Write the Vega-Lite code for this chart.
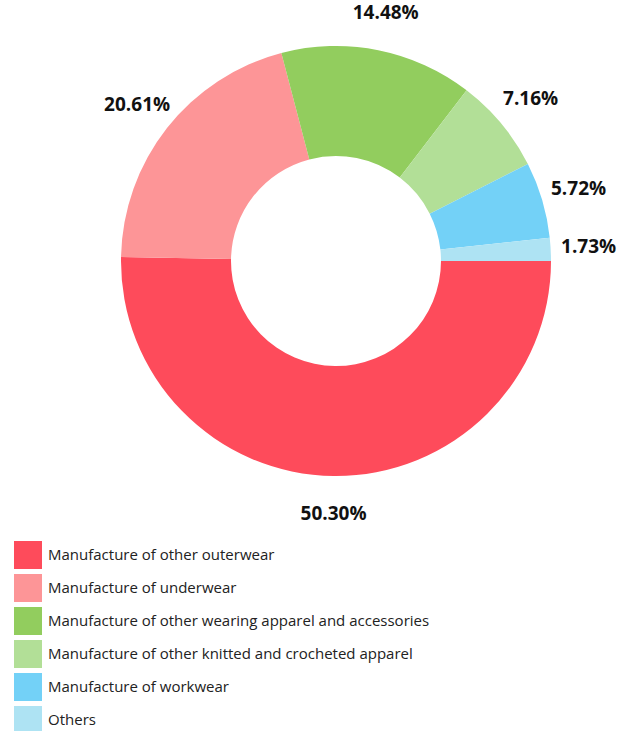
{
  "$schema": "https://vega.github.io/schema/vega-lite/v6.json",
  "autosize": "none",
  "width": 572,
  "height": 522,
  "padding": {"left": 50, "top": 0, "right": 0, "bottom": 209},
  "background": "white",
  "data": {"values": [
    {"category": "Manufacture of other outerwear", "value": 50.30, "label": "50.30%", "order": 1},
    {"category": "Manufacture of underwear", "value": 20.61, "label": "20.61%", "order": 2},
    {"category": "Manufacture of other wearing apparel and accessories", "value": 14.48, "label": "14.48%", "order": 3},
    {"category": "Manufacture of other knitted and crocheted apparel", "value": 7.16, "label": "7.16%", "order": 4},
    {"category": "Manufacture of workwear", "value": 5.72, "label": "5.72%", "order": 5},
    {"category": "Others", "value": 1.73, "label": "1.73%", "order": 6}
  ]},
  "encoding": {
    "theta": {"field": "value", "type": "quantitative", "stack": true, "scale": {"range": [1.5708, 7.854]}},
    "order": {"field": "order", "type": "quantitative"}
  },
  "layer": [
    {
      "mark": {"type": "arc", "innerRadius": 105, "outerRadius": 215, "stroke": null},
      "encoding": {
        "color": {
          "field": "category", "type": "nominal",
          "sort": ["Manufacture of other outerwear", "Manufacture of underwear", "Manufacture of other wearing apparel and accessories", "Manufacture of other knitted and crocheted apparel", "Manufacture of workwear", "Others"],
          "scale": {
            "domain": ["Manufacture of other outerwear", "Manufacture of underwear", "Manufacture of other wearing apparel and accessories", "Manufacture of other knitted and crocheted apparel", "Manufacture of workwear", "Others"],
            "range": ["#fe4b5b", "#fd9597", "#92cd5e", "#b2df97", "#73d1f7", "#aee3f3"]
          },
          "legend": {
            "title": null,
            "orient": "none",
            "legendX": -36,
            "legendY": 541,
            "symbolType": "square",
            "symbolSize": 784,
            "symbolStrokeWidth": 0,
            "symbolOpacity": 1,
            "rowPadding": 5,
            "labelOffset": 6,
            "labelFont": "Open Sans",
            "labelFontSize": 15,
            "labelColor": "#222222",
            "labelLimit": 500
          }
        }
      }
    },
    {
      "mark": {"type": "text", "radius": 253, "font": "Open Sans", "fontSize": 19, "fontWeight": "bold", "color": "#111111", "align": "center", "baseline": "middle"},
      "encoding": {
        "text": {"field": "label", "type": "nominal"}
      }
    }
  ],
  "config": {"view": {"stroke": null}}
}
